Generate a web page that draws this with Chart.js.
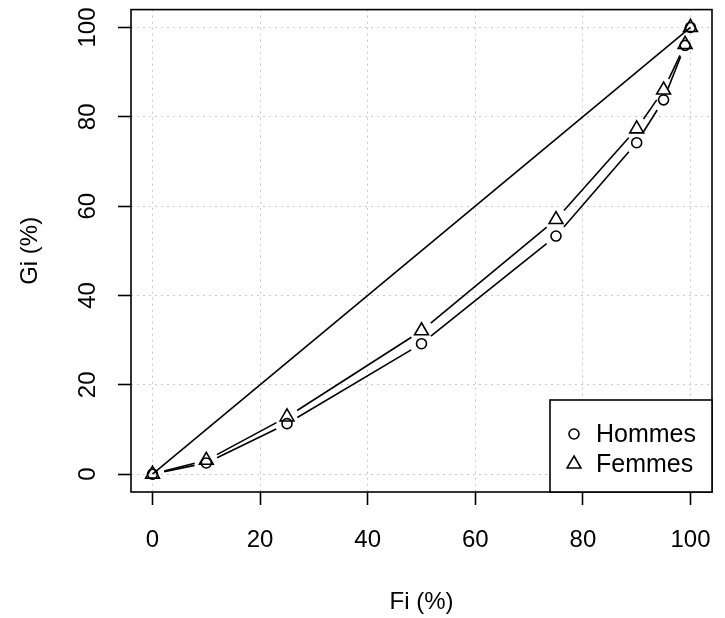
<!DOCTYPE html>
<html>
<head>
<meta charset="utf-8">
<script src="https://cdn.jsdelivr.net/npm/chart.js@4.4.0/dist/chart.umd.min.js"></script>
<style>
html, body { margin: 0; padding: 0; background: #fff; }
</style>
</head>
<body>
<canvas id="g-lorenz" width="725" height="618"></canvas>
<script>
// donnees
var fi = [0, 10, 25, 50, 75, 90, 95, 99, 100];
var hommes = [0, 2.5, 11.3, 29.2, 53.3, 74.2, 83.8, 96.0, 100];
var femmes = [0, 3.1, 12.8, 32.1, 57.0, 77.3, 86.0, 96.2, 100];
var egaliteFi = [0, 100];
var egaliteGi = [0, 100];
var ticksX = [0, 20, 40, 60, 80, 100];
var ticksY = [0, 20, 40, 60, 80, 100];
var noms = ['Hommes', 'Femmes'];

var police = 'Liberation Sans, Arial, Helvetica, sans-serif';
var taille = 24;

function pts(xs, ys) {
  return xs.map(function (x, i) { return {x: x, y: ys[i]}; });
}

// lignes type "b" de R : segments coupes autour des points
var lignesCoupees = {
  id: 'lignesCoupees',
  beforeDatasetsDraw: function (chart) {
    var ctx = chart.ctx;
    chart.getSortedVisibleDatasetMetas().forEach(function (meta) {
      var ds = chart.data.datasets[meta.index];
      if (!ds.gap) return;
      ctx.save();
      ctx.strokeStyle = '#000';
      ctx.lineWidth = 1.6;
      for (var i = 0; i < meta.data.length - 1; i++) {
        var a = meta.data[i], b = meta.data[i + 1];
        var dx = b.x - a.x, dy = b.y - a.y;
        var d = Math.sqrt(dx * dx + dy * dy);
        if (d <= 2 * ds.gap) continue;
        var ux = dx / d, uy = dy / d;
        ctx.beginPath();
        ctx.moveTo(a.x + ux * ds.gap, a.y + uy * ds.gap);
        ctx.lineTo(b.x - ux * ds.gap, b.y - uy * ds.gap);
        ctx.stroke();
      }
      ctx.restore();
    });
  }
};

var cadre = {
  id: 'cadre',
  beforeDatasetsDraw: function (chart) {
    var a = chart.chartArea, ctx = chart.ctx;
    ctx.save();
    ctx.strokeStyle = '#000';
    ctx.lineWidth = 1.6;
    ctx.strokeRect(a.left, a.top, a.right - a.left, a.bottom - a.top);
    ctx.restore();
  }
};

var legende = {
  id: 'legende',
  afterDraw: function (chart) {
    var a = chart.chartArea, ctx = chart.ctx;
    var w = 162, h = 92;
    var x0 = a.right - w, y0 = a.bottom - h;
    ctx.save();
    ctx.fillStyle = '#fff';
    ctx.fillRect(x0, y0, w, h);
    ctx.strokeStyle = '#000';
    ctx.lineWidth = 1.6;
    ctx.strokeRect(x0, y0, w, h);
    ctx.font = '25px ' + police;
    ctx.textBaseline = 'middle';
    ctx.textAlign = 'left';
    var styles = [{pointStyle: 'circle', radius: 5}, {pointStyle: 'triangle', radius: 8}];
    noms.forEach(function (nom, i) {
      var y = y0 + 34 + i * 30;
      ctx.fillStyle = 'rgba(0,0,0,0)';
      ctx.strokeStyle = '#000';
      ctx.lineWidth = 1.6;
      Chart.helpers.drawPoint(ctx, {pointStyle: styles[i].pointStyle, radius: styles[i].radius, rotation: 0, borderWidth: 1.6}, x0 + 24, y);
      ctx.fillStyle = '#000';
      ctx.fillText(nom, x0 + 46, y + 1);
    });
    ctx.restore();
  }
};

var grille = {
  color: '#c8c8c8',
  lineWidth: 1,
  tickLength: 13,
  tickColor: '#000',
  tickWidth: 1.6,
  tickBorderDash: []
};

var idhtml = document.getElementById('g-lorenz').getContext('2d');
var g_lorenz = new Chart(idhtml, {
  type: 'scatter',
  data: {
    datasets: [
      {
        label: 'egalite',
        data: pts(egaliteFi, egaliteGi),
        showLine: true,
        borderColor: '#000',
        borderWidth: 1.6,
        pointRadius: 0
      },
      {
        label: noms[0],
        data: pts(fi, hommes),
        showLine: false,
        gap: 12,
        pointStyle: 'circle',
        pointRadius: 5,
        pointBorderWidth: 1.6,
        pointBorderColor: '#000',
        pointBackgroundColor: 'rgba(0,0,0,0)'
      },
      {
        label: noms[1],
        data: pts(fi, femmes),
        showLine: false,
        gap: 12,
        pointStyle: 'triangle',
        pointRadius: 8,
        pointBorderWidth: 1.6,
        pointBorderColor: '#000',
        pointBackgroundColor: 'rgba(0,0,0,0)'
      }
    ]
  },
  options: {
    responsive: false,
    animation: false,
    events: [],
    devicePixelRatio: 1,
    layout: { padding: { top: 8, right: 13, left: 0, bottom: 0 } },
    plugins: {
      legend: { display: false },
      tooltip: { enabled: false }
    },
    scales: {
      x: {
        type: 'linear',
        min: -4,
        max: 104,
        afterBuildTicks: function (s) { s.ticks = ticksX.map(function (v) { return {value: v}; }); },
        afterFit: function (s) { s.height = 126; s.paddingLeft = 0; s.paddingRight = 0; },
        border: { display: false, dash: [2, 4] },
        grid: grille,
        ticks: {
          color: '#000',
          font: { family: police, size: taille },
          padding: 21,
          maxRotation: 0,
          minRotation: 0
        },
        title: {
          display: true,
          text: 'Fi (%)',
          color: '#000',
          font: { family: police, size: taille },
          padding: { bottom: 1 }
        }
      },
      y: {
        type: 'linear',
        min: -4,
        max: 104,
        afterBuildTicks: function (s) { s.ticks = ticksY.map(function (v) { return {value: v}; }); },
        afterFit: function (s) { s.width = 131; s.paddingTop = 0; s.paddingBottom = 0; },
        border: { display: false, dash: [2, 4] },
        grid: grille,
        ticks: {
          color: '#000',
          font: { family: police, size: taille },
          padding: 10,
          minRotation: 90,
          maxRotation: 90,
          crossAlign: 'center'
        },
        title: {
          display: true,
          text: 'Gi (%)',
          color: '#000',
          font: { family: police, size: taille },
          padding: { top: 16 }
        }
      }
    }
  },
  plugins: [cadre, lignesCoupees, legende]
});
</script>
</body>
</html>
